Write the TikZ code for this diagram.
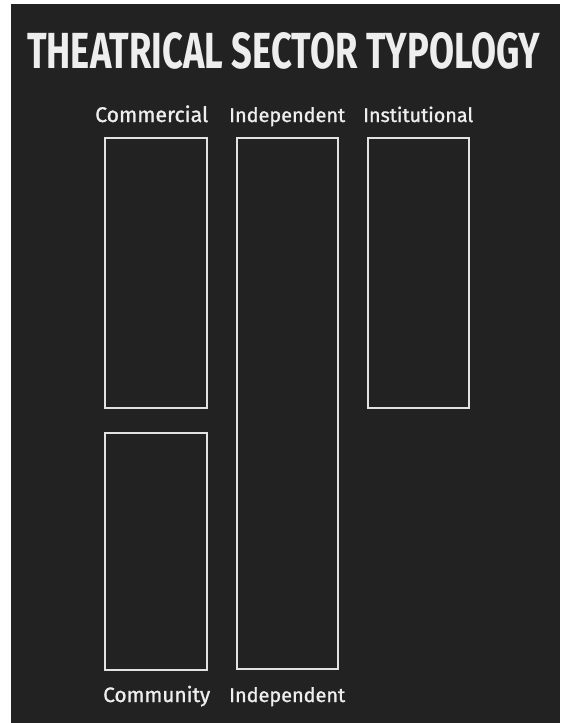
\documentclass[tikz,border=0pt]{standalone}
\usepackage{fontspec}
\setmainfont{Fira Sans}
\newfontfamily\lblfont[FakeBold=1.2]{Fira Sans}
\usepackage{graphicx}
\definecolor{bg}{HTML}{222222}
\definecolor{fg}{HTML}{EEEEEE}
\definecolor{ln}{HTML}{E2E2E2}
\begin{document}
\begin{tikzpicture}[x=1pt,y=-1pt,
  sectorbox/.style={draw=ln,line width=2pt},
  lbl/.style={text=fg,inner sep=0pt,anchor=base west,font=\lblfont}]
\useasboundingbox (0,0) rectangle (560,723);
\fill[white] (0,0) rectangle (560,723);
\fill[bg] (11,4) rectangle (560,723);
\node[text=fg,inner sep=0pt,anchor=base west] (title) at (27,68)
  {\resizebox{513pt}{36pt}{\bfseries THEATRICAL SECTOR TYPOLOGY}};
\node[lbl] (lcom) at (95,122) {\resizebox{113pt}{!}{Commercial}};
\node[lbl] (lind) at (229,122) {\resizebox{116pt}{!}{Independent}};
\node[lbl] (lins) at (363,122) {\resizebox{110pt}{!}{Institutional}};
\node[lbl] (lcmy) at (103,702) {\resizebox{107pt}{!}{Community}};
\node[lbl] (lind2) at (229,702) {\resizebox{116pt}{!}{Independent}};
\draw[sectorbox] (105,138) rectangle (207,408) coordinate (bcom);
\draw[sectorbox] (105,433) rectangle (207,670) coordinate (bcmy);
\draw[sectorbox] (237,138) rectangle (338,669) coordinate (bind);
\draw[sectorbox] (368,138) rectangle (469,408) coordinate (bins);
\end{tikzpicture}
\end{document}
